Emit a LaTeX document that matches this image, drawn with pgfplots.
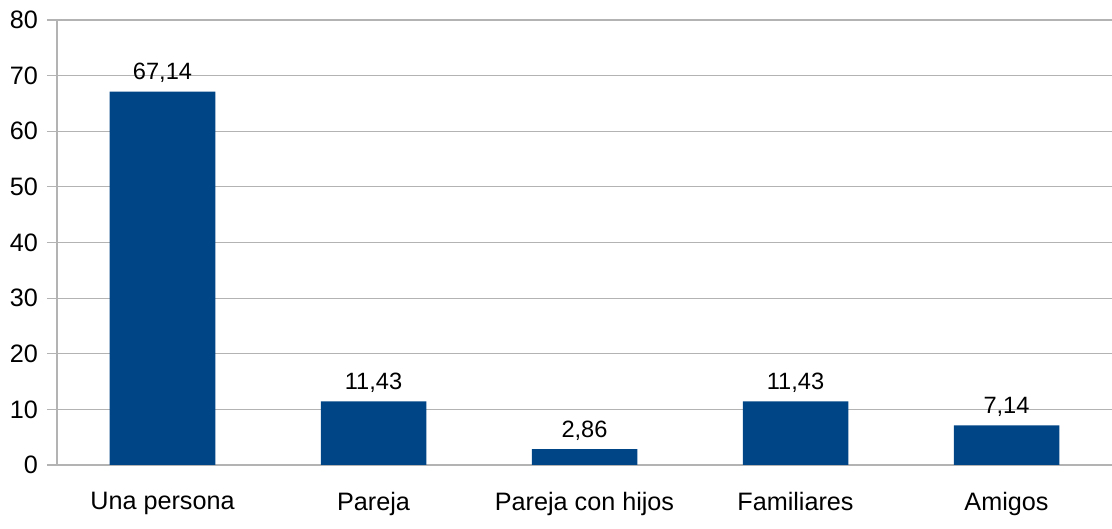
\documentclass[border=0pt]{standalone}
\usepackage{pgfplots}
\pgfplotsset{compat=1.18}
\usepackage{fontspec}
\setmainfont{Liberation Sans}
\definecolor{barblue}{RGB}{0,69,134}
\definecolor{gridgray}{RGB}{179,179,179}
\begin{document}
\begin{tikzpicture}
\path[use as bounding box] (-28.5pt,-32pt) rectangle (527.5pt,232.5pt);
\begin{axis}[
    at={(0pt,0pt)}, anchor=south west,
    scale only axis,
    width=527.5pt, height=222.5pt,
    font=\fontsize{12.6}{14}\selectfont,
    ticklabel style={font=\fontsize{12.6}{14}\selectfont},
    /pgf/number format/assume math mode=true,
    ymin=0, ymax=80, ytick={0,10,...,80},
    xmin=-0.5, xmax=4.5,
    xtick={0,1,2,3,4},
    xticklabels={Una persona, Pareja, Pareja con hijos, Familiares, Amigos},
    extra x ticks={-0.5,0.5,1.5,2.5,3.5,4.5},
    extra x tick labels={},
    extra x tick style={major tick length=5pt, tick style={gridgray}, grid=none},
    axis x line*=bottom, axis y line*=left,
    axis line style={gridgray, line width=0.6pt},
    x axis line style={-}, y axis line style={-},
    ymajorgrids, major grid style={gridgray, line width=0.6pt},
    tick align=outside,
    major tick length=5pt,
    tick style={gridgray, line width=0.6pt},
    xtick style={draw=none},
    yticklabel style={xshift=-1pt},
    xticklabel style={yshift=-5pt},
    ybar, bar width=0.5,
    nodes near coords,
    every node near coord/.append style={
        font=\fontsize{11.8}{13}\selectfont, yshift=1pt,
        /pgf/number format/.cd, fixed, fixed zerofill, precision=2, use comma},
]
\addplot[fill=barblue, draw=none] coordinates {(0,67.14) (1,11.43) (2,2.86) (3,11.43) (4,7.14)};
\end{axis}
\end{tikzpicture}
\end{document}
